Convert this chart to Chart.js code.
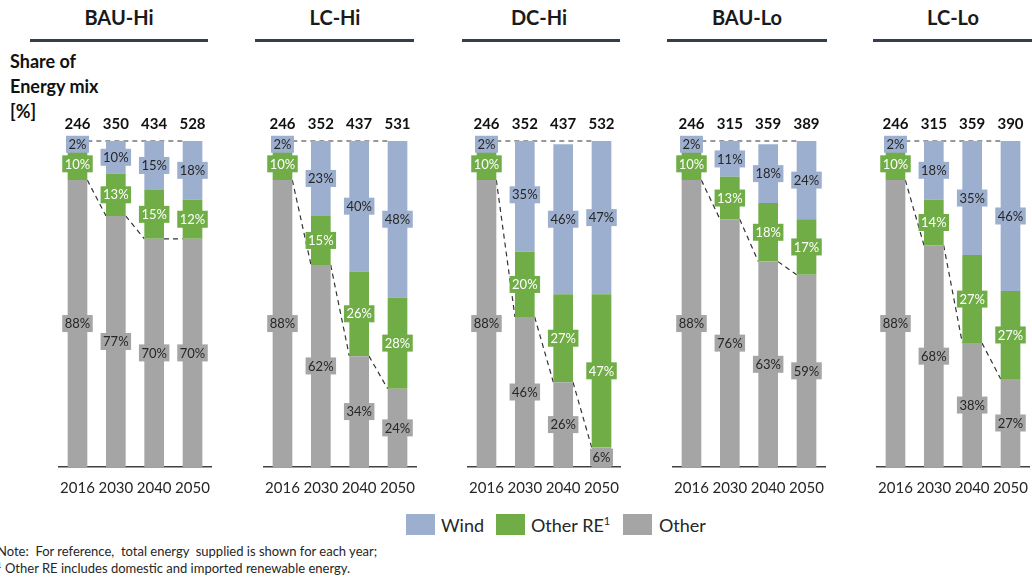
<!DOCTYPE html>
<html>
<head>
<meta charset="utf-8">
<script src="https://cdn.jsdelivr.net/npm/chart.js@4.4.1/dist/chart.umd.min.js"></script>
<style>
  html, body { margin: 0; padding: 0; background: #ffffff; }
  body { width: 1032px; height: 577px; position: relative; overflow: hidden; font-family: Lato, "Noto Sans", sans-serif; color: #262626; }
  .title { position: absolute; top: 4px; width: 180px; text-align: center; font-weight: bold; font-size: 20px; line-height: 26px; color: #1a1a1a; }
  .rule { position: absolute; top: 39px; height: 3px; background: #333f50; }
  .ylab { position: absolute; left: 10px; top: 49px; font-weight: bold; font-size: 18px; line-height: 25px; color: #111; }
  canvas { position: absolute; top: 110px; }
  .lg-box { position: absolute; top: 514px; width: 29px; height: 21px; }
  .lg-txt { position: absolute; top: 513px; font-size: 18px; line-height: 24px; color: #262626; }
  .lg-txt sup { font-size: 11px; vertical-align: 7px; line-height: 0; }
  .note { position: absolute; left: -3px; top: 543px; font-size: 13px; line-height: 17px; color: #262626; white-space: pre; }
  .note sup { font-size: 8px; vertical-align: 5px; line-height: 0; }
</style>
</head>
<body>
<div class="ylab">Share of<br>Energy mix<br>[%]</div>

<div class="lg-box" style="left:406px;background:#9dafcf"></div><div class="lg-txt" style="left:441px">Wind</div>
<div class="lg-box" style="left:496px;background:#70ad47"></div><div class="lg-txt" style="left:531px">Other RE<sup>1</sup></div>
<div class="lg-box" style="left:623px;background:#a5a5a5"></div><div class="lg-txt" style="left:659px">Other</div>

<div class="note">Note:  For reference,  total energy  supplied is shown for each year;
<sup>1</sup> Other RE includes domestic and imported renewable energy.</div>

<script>
// Scenario panels and their years
const scenarios = ['BAU-Hi', 'LC-Hi', 'DC-Hi', 'BAU-Lo', 'LC-Lo'];
const years = ['2016', '2030', '2040', '2050'];

// Total energy supplied per year (shown above each bar)
const totalBAUHi = [246, 350, 434, 528];
const totalLCHi  = [246, 352, 437, 531];
const totalDCHi  = [246, 352, 437, 532];
const totalBAULo = [246, 315, 359, 389];
const totalLCLo  = [246, 315, 359, 390];

// Share of energy mix [%] — Wind
const windBAUHi = [2, 10, 15, 18];
const windLCHi  = [2, 23, 40, 48];
const windDCHi  = [2, 35, 46, 47];
const windBAULo = [2, 11, 18, 24];
const windLCLo  = [2, 18, 35, 46];

// Share of energy mix [%] — Other RE
const reBAUHi = [10, 13, 15, 12];
const reLCHi  = [10, 15, 26, 28];
const reDCHi  = [10, 20, 27, 47];
const reBAULo = [10, 13, 18, 17];
const reLCLo  = [10, 14, 27, 27];

// Share of energy mix [%] — Other
const otherBAUHi = [88, 77, 70, 70];
const otherLCHi  = [88, 62, 34, 24];
const otherDCHi  = [88, 46, 26, 6];
const otherBAULo = [88, 76, 63, 59];
const otherLCLo  = [88, 68, 38, 27];

const totals = [totalBAUHi, totalLCHi, totalDCHi, totalBAULo, totalLCLo];
const wind   = [windBAUHi, windLCHi, windDCHi, windBAULo, windLCLo];
const otherRE = [reBAUHi, reLCHi, reDCHi, reBAULo, reLCLo];
const other  = [otherBAUHi, otherLCHi, otherDCHi, otherBAULo, otherLCLo];

const COLORS = { wind: '#9dafcf', re: '#70ad47', other: '#a5a5a5' };
const FONT = 'Lato, "Noto Sans", sans-serif';

// Panel geometry (plot-area left edge, heading centre, heading rule)
const plotLeft = [56.5, 261.5, 466, 671, 875];
const headCenter = [119, 335, 539, 747, 953];
const ruleLeft = [30, 255, 462, 667, 873];
const ruleWidth = [178, 159, 158, 160, 170];
const PAD = 10;

// Dashed guide lines: 100% line across the tops, and links between the tops of "Other"
const guides = {
  id: 'guides',
  beforeDatasetsDraw(chart) {
    const { ctx } = chart;
    const y = chart.scales.y;
    const bars = chart.getDatasetMeta(0).data;
    const half = bars[0].width / 2;
    ctx.save();
    ctx.setLineDash([5, 4]);
    ctx.strokeStyle = '#333333';
    ctx.lineWidth = 1.2;
    const top = y.getPixelForValue(100);
    ctx.beginPath();
    ctx.moveTo(bars[0].x + half, top);
    ctx.lineTo(bars[bars.length - 1].x - half, top);
    ctx.stroke();
    for (let i = 0; i < bars.length - 1; i++) {
      ctx.beginPath();
      ctx.moveTo(bars[i].x + half, bars[i].y);
      ctx.lineTo(bars[i + 1].x - half, bars[i + 1].y);
      ctx.stroke();
    }
    ctx.restore();
  }
};

// Value labels on boxed backgrounds, plus totals above each bar
const valueLabels = {
  id: 'valueLabels',
  afterDatasetsDraw(chart, args, opts) {
    const { ctx } = chart;
    ctx.save();
    ctx.font = '13px ' + FONT;
    ctx.textAlign = 'center';
    ctx.textBaseline = 'middle';
    chart.data.datasets.forEach((ds, di) => {
      const meta = chart.getDatasetMeta(di);
      meta.data.forEach((bar, i) => {
        const v = ds.data[i];
        const text = v + '%';
        const cy = (bar.y + bar.base) / 2;
        const w = ctx.measureText(text).width + 5;
        const h = 17;
        ctx.fillStyle = ds.backgroundColor;
        ctx.fillRect(bar.x - w / 2, cy - h / 2, w, h);
        ctx.fillStyle = ds.labelColor;
        ctx.fillText(text, bar.x, cy + 0.5);
      });
    });
    const y = chart.scales.y;
    const bars = chart.getDatasetMeta(0).data;
    ctx.font = 'bold 15px ' + FONT;
    ctx.fillStyle = '#111';
    ctx.textBaseline = 'middle';
    opts.totals.forEach((t, i) => {
      ctx.fillText(String(t), bars[i].x, y.getPixelForValue(100) - 17);
    });
    ctx.restore();
  }
};

scenarios.forEach((name, p) => {
  const head = document.createElement('div');
  head.className = 'title';
  head.style.left = (headCenter[p] - 90) + 'px';
  head.textContent = name;
  document.body.appendChild(head);

  const rule = document.createElement('div');
  rule.className = 'rule';
  rule.style.left = ruleLeft[p] + 'px';
  rule.style.width = ruleWidth[p] + 'px';
  document.body.appendChild(rule);

  const canvas = document.createElement('canvas');
  canvas.width = 156 + 2 * PAD;
  canvas.height = 390;
  canvas.style.left = (plotLeft[p] - PAD) + 'px';
  document.body.appendChild(canvas);

  new Chart(canvas, {
    type: 'bar',
    data: {
      labels: years,
      datasets: [
        { label: 'Other', data: other[p], backgroundColor: COLORS.other, labelColor: '#262626' },
        { label: 'Other RE', data: otherRE[p], backgroundColor: COLORS.re, labelColor: '#ffffff' },
        { label: 'Wind', data: wind[p], backgroundColor: COLORS.wind, labelColor: '#262626' }
      ]
    },
    options: {
      responsive: false,
      animation: false,
      devicePixelRatio: 1,
      layout: { padding: { left: PAD, right: PAD, top: 31, bottom: 0 } },
      datasets: { bar: { categoryPercentage: 1, barPercentage: 0.513, borderWidth: 0 } },
      plugins: {
        legend: { display: false },
        tooltip: { enabled: false },
        valueLabels: { totals: totals[p] }
      },
      scales: {
        x: {
          stacked: true,
          grid: { display: false, drawTicks: false },
          border: { display: true, color: '#404040', width: 1.5 },
          ticks: { color: '#262626', font: { family: FONT, size: 15 }, padding: 12, maxRotation: 0 },
          afterFit(scale) { scale.height = 33; }
        },
        y: {
          stacked: true,
          display: false,
          min: 0,
          max: 100
        }
      }
    },
    plugins: [guides, valueLabels]
  });
});
</script>
</body>
</html>
